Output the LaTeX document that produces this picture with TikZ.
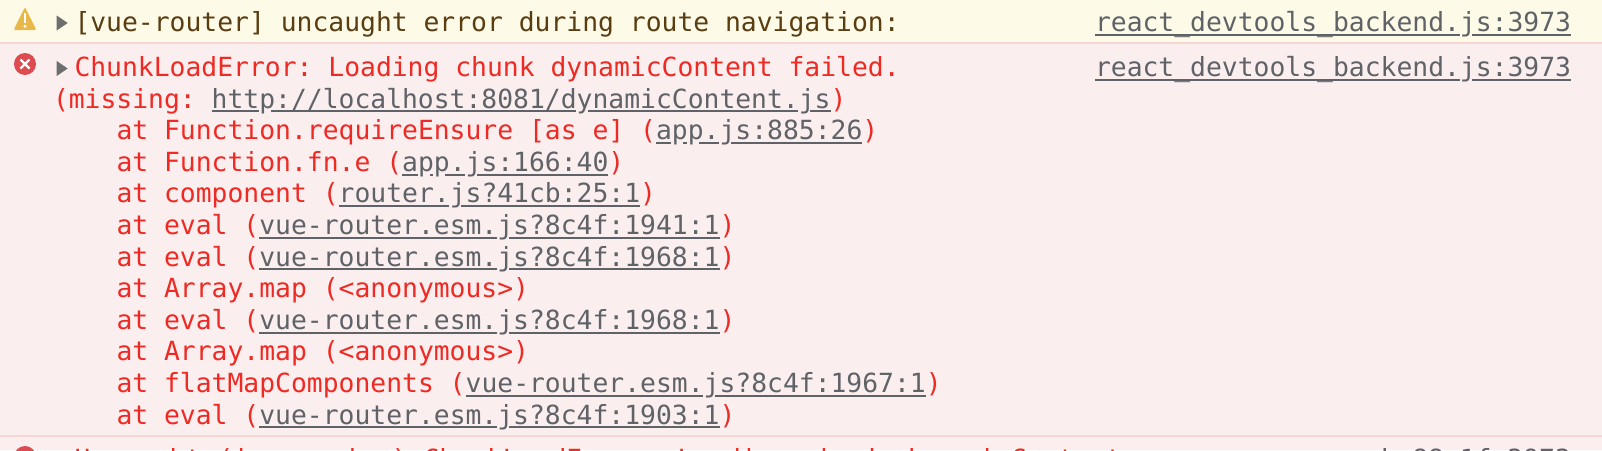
\documentclass[tikz,border=0pt]{standalone}
\usepackage{fontspec}
\setmonofont{DejaVu Sans Mono}
\definecolor{warnbg}{HTML}{FDFBE8}
\definecolor{errbg}{HTML}{FBEEEE}
\definecolor{sep}{HTML}{F8D6D6}
\definecolor{errfg}{HTML}{EE2A24}
\definecolor{warnfg}{HTML}{5A3D10}
\definecolor{linkfg}{HTML}{5F6368}
\definecolor{warnicon}{HTML}{E8B84A}
\definecolor{erricon}{HTML}{DB4B4F}
\definecolor{tri}{HTML}{6E6E6E}
\pgfdeclarelayer{base}
\pgfdeclarelayer{under}
\pgfsetlayers{base,under,main}
\tikzset{
  x=1pt,y=-1pt,
  txt/.style={anchor=base west,inner sep=0pt,outer sep=0pt,font=\ttfamily\fontsize{26.36}{31}\selectfont},
  err/.style={txt,text=errfg},
  warn/.style={txt,text=warnfg},
  lk/.style={txt,text=linkfg},
  ul/.style={draw=linkfg,line width=2pt},
  sepline/.style={draw=sep,line width=2pt},
}
\def\gapbg{errbg}
% name, anchor coordinate, text, character positions where descenders break the underline
\newcommand{\ulink}[4]{%
  \node[lk] (#1) at (#2) {#3};
  \begin{pgfonlayer}{under}
    \draw[ul] ([yshift=-3.4pt]#1.base west) -- ([yshift=-3.4pt]#1.base east);
    \foreach \g in {#4} {
      \fill[\gapbg] ([xshift={\g*15.87pt-0.5pt},yshift=-2pt]#1.base west) rectangle +(12,3);
    }
  \end{pgfonlayer}
}
% one stack line: name, baseline, prefix, link, gaps
\newcommand{\stackline}[5]{%
  \node[err] (#1p) at (116.5,#2) {#3};
  \ulink{#1l}{#1p.base east}{#4}{#5}
  \node[err] (#1s) at (#1l.base east) {)};
}
\begin{document}
\begin{tikzpicture}
\useasboundingbox (0,0) rectangle (1602,450);
\begin{pgfonlayer}{base}
\fill[warnbg] (0,0) rectangle (1602,42.5);
\fill[errbg] (0,42.5) rectangle (1602,450);
\draw[sepline] (0,42.5) -- (1602,42.5);
\draw[sepline] (0,435.8) -- (1602,435.8);
\end{pgfonlayer}
% warning icon
\fill[warnicon,rounded corners=2pt] (25,7) -- (36.5,30) -- (13.5,30) -- cycle;
\fill[white] (23.7,13) rectangle (26.3,23);
\fill[white] (25,26.2) circle (1.6);
% error icon
\fill[erricon] (25,64) circle (11);
\draw[white,line width=2.4pt] (20.5,59.5) -- (29.5,68.5);
\draw[white,line width=2.4pt] (29.5,59.5) -- (20.5,68.5);
\fill[erricon] (25,457) circle (11);
% triangles
\fill[tri] (56.7,15.5) -- (67.7,23) -- (56.7,30.5) -- cycle;
\fill[tri] (56.7,61) -- (67.7,68.5) -- (56.7,76) -- cycle;
\node[warn] (w1) at (74.5,31.7) {[vue-router] uncaught error during route navigation:};
\def\gapbg{warnbg}
\ulink{r1}{1095,31.7}{react\_devtools\_backend.js:3973}{23}
\def\gapbg{errbg}
\node[err] (e1) at (74.5,76.7) {ChunkLoadError: Loading chunk dynamicContent failed.};
\ulink{r2}{1095,76.7}{react\_devtools\_backend.js:3973}{23}
\node[err] (e2) at (53,108) {(missing:};
\ulink{u0}{211.7,108}{http://localhost:8081/dynamicContent.js}{3,23,37}
\node[err] (e3) at (u0.base east) {)};
\stackline{a1}{139.6}{at Function.requireEnsure [as e] (}{app.js:885:26}{1,2,4}
\stackline{a2}{171.2}{at Function.fn.e (}{app.js:166:40}{1,2,4}
\stackline{a3}{202.8}{at component (}{router.js?41cb:25:1}{7}
\stackline{a4}{234.4}{at eval (}{vue-router.esm.js?8c4f:1941:1}{15}
\stackline{a5}{266}{at eval (}{vue-router.esm.js?8c4f:1968:1}{15}
\node[err] (a6) at (116.5,297.6) {at Array.map (<anonymous>)};
\stackline{a7}{329.2}{at eval (}{vue-router.esm.js?8c4f:1968:1}{15}
\node[err] (a8) at (116.5,360.8) {at Array.map (<anonymous>)};
\stackline{a9}{392.4}{at flatMapComponents (}{vue-router.esm.js?8c4f:1967:1}{15}
\stackline{a10}{424}{at eval (}{vue-router.esm.js?8c4f:1903:1}{15}
% row cut off by the lower edge
\node[err] (b1) at (74.5,468.6) {Uncaught (in promise) ChunkLoadError: Loading chunk dynamicContent};
\node[lk] (b2) at (1380.5,468.6) {k:88:1f:3973};
\end{tikzpicture}
\end{document}
